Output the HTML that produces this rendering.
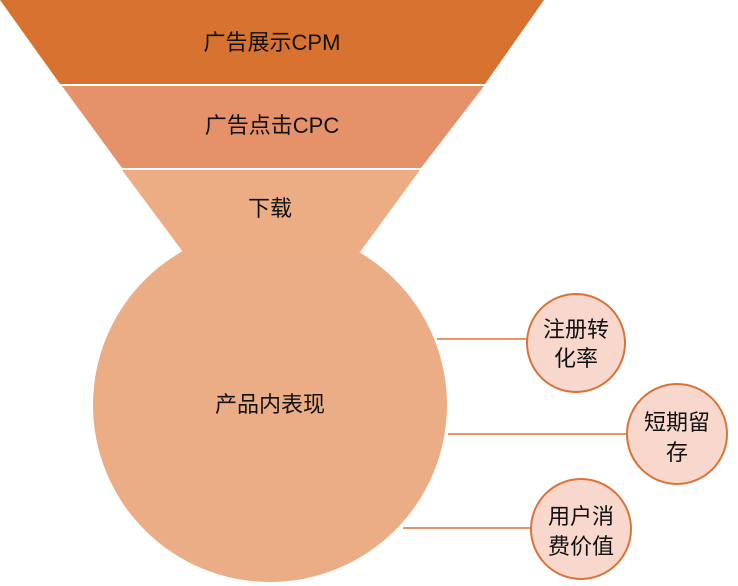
<!DOCTYPE html>
<html><head><meta charset="utf-8"><style>
html,body{margin:0;padding:0;background:#fff;width:738px;height:586px;overflow:hidden}
svg text{font-family:"Liberation Sans","Noto Sans CJK SC",sans-serif;fill:#111}
</style></head><body>
<svg width="738" height="586" viewBox="0 0 738 586">
<circle cx="270" cy="405" r="177" fill="#ebad85"/>
<polygon points="0,0 544,0 485,84 60,84" fill="#d87231"/>
<polygon points="62,86 484,86 421,168 122,168" fill="#e5926a"/>
<polygon points="122,170 420,170 360,252 183,252" fill="#ecad85"/>
<line x1="437" y1="339" x2="527" y2="339" stroke="#d9733a" stroke-width="1.5"/>
<line x1="448" y1="434" x2="628" y2="434" stroke="#d9733a" stroke-width="1.5"/>
<line x1="403" y1="528" x2="532" y2="528" stroke="#d9733a" stroke-width="1.5"/>
<g fill="#f8d8cc" stroke="#d9733a" stroke-width="2">
<circle cx="576" cy="343" r="49"/>
<circle cx="677" cy="434" r="50"/>
<circle cx="581" cy="529" r="50"/>
</g>
<g font-size="22" text-anchor="middle">
<text x="272" y="50">广告展示CPM</text>
<text x="272" y="133">广告点击CPC</text>
<text x="270" y="216">下载</text>
<text x="270" y="412">产品内表现</text>
<text x="576" y="337">注册转</text>
<text x="576" y="366">化率</text>
<text x="677" y="430">短期留</text>
<text x="677" y="460">存</text>
<text x="581" y="524">用户消</text>
<text x="581" y="554">费价值</text>
</g>
</svg>
</body></html>
